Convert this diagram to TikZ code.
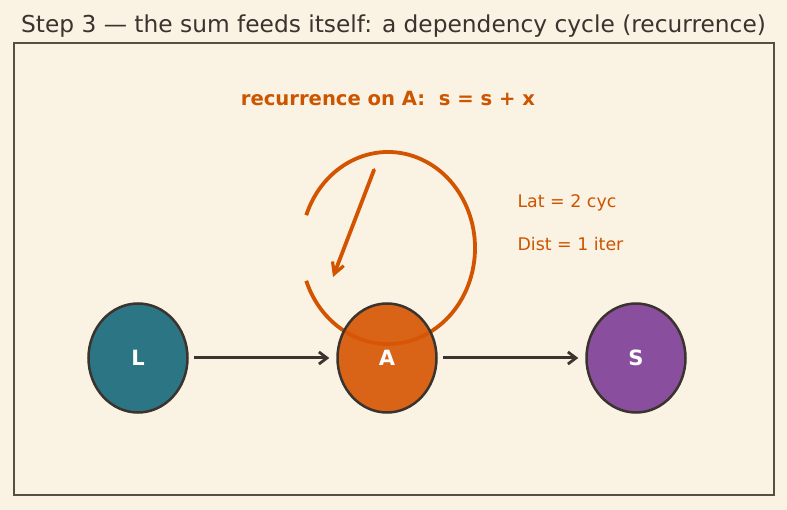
\documentclass[tikz,border=0pt]{standalone}
\usepackage{fontspec}
\setmainfont{DejaVu Sans}
\usetikzlibrary{shapes.geometric,arrows.meta}
\definecolor{bg}{HTML}{FAF2E3}
\definecolor{frame}{HTML}{5A4E40}
\definecolor{loopc}{HTML}{D35400}
\definecolor{txtc}{HTML}{CC5500}
\definecolor{teal}{HTML}{1A6B7E}
\definecolor{orng}{HTML}{D75706}
\definecolor{purp}{HTML}{81419A}
\definecolor{ink}{HTML}{3A332E}
\definecolor{titlec}{HTML}{3A332E}
\tikzset{
  opnode/.style={ellipse, draw=ink, line width=2.5pt, minimum width=99pt, minimum height=109pt, inner sep=0pt, text=white, font=\fontsize{21}{24}\selectfont\bfseries, fill opacity=0.92, text opacity=1},
  flow/.style={draw=ink, line width=3pt, -{Straight Barb[length=8pt,width=12pt,line width=2.8pt]}},
  loopline/.style={draw=loopc, line width=3.8pt},
}
\begin{document}
\begin{tikzpicture}[x=1pt,y=-1pt]
\useasboundingbox[fill=bg] (0,0) rectangle (787,510);
\node[text=titlec, font=\fontsize{23.3}{27}\selectfont] (title) at (393.5,26) {Step 3 — the sum feeds itself: a dependency cycle (recurrence)};
\draw[frame, line width=1.3pt] (14,43) rectangle (774,495);
\node[text=txtc, font=\fontsize{19.6}{23}\selectfont\bfseries] (rec) at (388,98.5) {recurrence on A:\ \ s = s + x};
\node[text=txtc, font=\fontsize{17.4}{21}\selectfont, anchor=west] (lat) at (514,203) {Lat = 2 cyc};
\node[text=txtc, font=\fontsize{17.4}{21}\selectfont, anchor=west] (dist) at (514,244) {Dist = 1 iter};
% loop
\coordinate (lc) at (388,248);
\draw[loopline] ([shift={(-160:87 and 96)}]lc) arc[start angle=-160, end angle=160, x radius=87, y radius=96];
\coordinate (ls) at (374,170);
\coordinate (le) at (333,277);
\draw[loopline, line cap=round, -{Straight Barb[length=11pt,width=12pt,line width=3.2pt]}] (ls) -- (le);
% nodes
\node[opnode, fill=teal] (L) at (138,358) {L};
\node[opnode, fill=orng] (A) at (387,358) {A};
\node[opnode, fill=purp] (S) at (636,358) {S};
\draw[flow] (L) ++(56,0) -- ([xshift=-7pt]A.west);
\draw[flow] (A) ++(56,0) -- ([xshift=-7pt]S.west);
\end{tikzpicture}
\end{document}
